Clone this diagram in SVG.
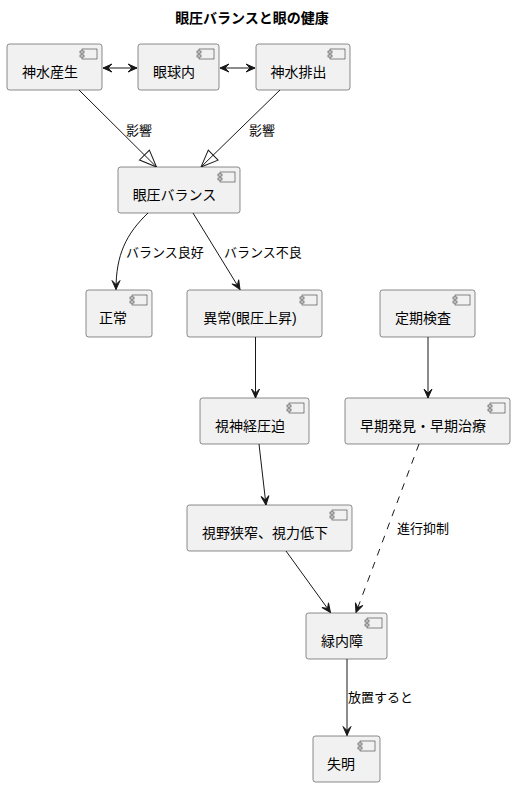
<svg xmlns="http://www.w3.org/2000/svg" width="515" height="787" viewBox="0 0 515 787">
<defs>
<style>
.node rect.b{fill:#F1F1F1;stroke:#181818;stroke-width:0.5}
.node rect.i{fill:#F1F1F1;stroke:#181818;stroke-width:0.5}
.node text{font-family:"Liberation Sans","Noto Sans CJK JP",sans-serif;font-size:14px;fill:#000;text-anchor:middle}
.e{fill:none;stroke:#181818;stroke-width:1}
.d{stroke-dasharray:7,7}
.lbl{font-family:"Liberation Sans","Noto Sans CJK JP",sans-serif;font-size:13px;fill:#000}
.title{font-family:"Liberation Sans","Noto Sans CJK JP",sans-serif;font-size:14px;font-weight:bold;fill:#000;text-anchor:middle}
</style>
<marker id="arr" viewBox="-10 -5 11 10" refX="0" refY="0" markerWidth="11" markerHeight="10" markerUnits="userSpaceOnUse" orient="auto">
<path d="M0,0 L-9,-4 L-5,0 L-9,4 Z" fill="#181818" stroke="#181818" stroke-width="1"/>
</marker>
<marker id="arrs" viewBox="-10 -5 11 10" refX="0" refY="0" markerWidth="11" markerHeight="10" markerUnits="userSpaceOnUse" orient="auto-start-reverse">
<path d="M0,0 L-9,-4 L-5,0 L-9,4 Z" fill="#181818" stroke="#181818" stroke-width="1"/>
</marker>
<marker id="tri" viewBox="-19 -9 20 18" refX="0" refY="0" markerWidth="20" markerHeight="18" markerUnits="userSpaceOnUse" orient="auto">
<path d="M0,0 L-17,-7 L-17,7 Z" fill="none" stroke="#181818" stroke-width="1"/>
</marker>
</defs>
<rect width="515" height="787" fill="#FFFFFF"/>
<text class="title" x="252" y="23">眼圧バランスと眼の健康</text>

<g id="connectors">
<line class="e" x1="103" y1="68" x2="137" y2="68" marker-start="url(#arrs)" marker-end="url(#arr)"/>
<line class="e" x1="220" y1="68" x2="255" y2="68" marker-start="url(#arrs)" marker-end="url(#arr)"/>
<line class="e" x1="79" y1="90" x2="156.5" y2="167" marker-end="url(#tri)"/>
<text class="lbl" x="126" y="135">影響</text>
<line class="e" x1="280" y1="90" x2="201" y2="167" marker-end="url(#tri)"/>
<text class="lbl" x="249" y="135">影響</text>
<path class="e" d="M148,213 C126,234 116,255 116,289.5" marker-end="url(#arr)"/>
<text class="lbl" x="126" y="257">バランス良好</text>
<line class="e" x1="193" y1="213" x2="240" y2="289.5" marker-end="url(#arr)"/>
<text class="lbl" x="224" y="257">バランス不良</text>
<line class="e" x1="255.5" y1="337" x2="255.5" y2="398" marker-end="url(#arr)"/>
<line class="e" x1="428" y1="337" x2="428" y2="398" marker-end="url(#arr)"/>
<line class="e" x1="259" y1="444" x2="266" y2="505" marker-end="url(#arr)"/>
<line class="e" x1="286" y1="551" x2="330.5" y2="612.5" marker-end="url(#arr)"/>
<line class="e d" x1="419" y1="444" x2="356" y2="612.5" marker-end="url(#arr)"/>
<text class="lbl" x="397" y="533">進行抑制</text>
<line class="e" x1="347" y1="659" x2="347" y2="735.5" marker-end="url(#arr)"/>
<text class="lbl" x="348" y="702">放置すると</text>
</g>

<g id="n_seisan" class="node">
<rect class="b" x="7" y="44" width="95" height="46" rx="2.5"/>
<rect class="i" x="82" y="49" width="15" height="10"/><rect class="i" x="80" y="51" width="4" height="2"/><rect class="i" x="80" y="55" width="4" height="2"/>
<text x="50" y="77">神水産生</text>
</g>
<g id="n_gankyu" class="node">
<rect class="b" x="138" y="44" width="81" height="46" rx="2.5"/>
<rect class="i" x="199" y="49" width="15" height="10"/><rect class="i" x="197" y="51" width="4" height="2"/><rect class="i" x="197" y="55" width="4" height="2"/>
<text x="174" y="77">眼球内</text>
</g>
<g id="n_haishutsu" class="node">
<rect class="b" x="256" y="44" width="94" height="46" rx="2.5"/>
<rect class="i" x="330" y="49" width="15" height="10"/><rect class="i" x="328" y="51" width="4" height="2"/><rect class="i" x="328" y="55" width="4" height="2"/>
<text x="298.5" y="77">神水排出</text>
</g>
<g id="n_balance" class="node">
<rect class="b" x="118" y="167" width="122" height="46" rx="2.5"/>
<rect class="i" x="220" y="172" width="15" height="10"/><rect class="i" x="218" y="174" width="4" height="2"/><rect class="i" x="218" y="178" width="4" height="2"/>
<text x="174.5" y="200">眼圧バランス</text>
</g>
<g id="n_seijo" class="node">
<rect class="b" x="86" y="290" width="66" height="47" rx="2.5"/>
<rect class="i" x="132" y="295" width="15" height="10"/><rect class="i" x="130" y="297" width="4" height="2"/><rect class="i" x="130" y="301" width="4" height="2"/>
<text x="113" y="323">正常</text>
</g>
<g id="n_ijo" class="node">
<rect class="b" x="187" y="290" width="135" height="47" rx="2.5"/>
<rect class="i" x="302" y="295" width="15" height="10"/><rect class="i" x="300" y="297" width="4" height="2"/><rect class="i" x="300" y="301" width="4" height="2"/>
<text x="250" y="323">異常(眼圧上昇)</text>
</g>
<g id="n_teiki" class="node">
<rect class="b" x="380" y="290" width="95" height="47" rx="2.5"/>
<rect class="i" x="455" y="295" width="15" height="10"/><rect class="i" x="453" y="297" width="4" height="2"/><rect class="i" x="453" y="301" width="4" height="2"/>
<text x="423" y="323">定期検査</text>
</g>
<g id="n_shishinkei" class="node">
<rect class="b" x="200" y="398" width="109" height="46" rx="2.5"/>
<rect class="i" x="289" y="403" width="15" height="10"/><rect class="i" x="287" y="405" width="4" height="2"/><rect class="i" x="287" y="409" width="4" height="2"/>
<text x="250" y="431">視神経圧迫</text>
</g>
<g id="n_soki" class="node">
<rect class="b" x="345" y="398" width="165" height="46" rx="2.5"/>
<rect class="i" x="490" y="403" width="15" height="10"/><rect class="i" x="488" y="405" width="4" height="2"/><rect class="i" x="488" y="409" width="4" height="2"/>
<text x="423" y="431">早期発見・早期治療</text>
</g>
<g id="n_shiya" class="node">
<rect class="b" x="187" y="505" width="165" height="46" rx="2.5"/>
<rect class="i" x="332" y="510" width="15" height="10"/><rect class="i" x="330" y="512" width="4" height="2"/><rect class="i" x="330" y="516" width="4" height="2"/>
<text x="265" y="538">視野狭窄、視力低下</text>
</g>
<g id="n_ryokunaisho" class="node">
<rect class="b" x="306" y="613" width="81" height="46" rx="2.5"/>
<rect class="i" x="367" y="618" width="15" height="10"/><rect class="i" x="365" y="620" width="4" height="2"/><rect class="i" x="365" y="624" width="4" height="2"/>
<text x="342" y="646">緑内障</text>
</g>
<g id="n_shitsumei" class="node">
<rect class="b" x="313" y="736" width="67" height="46" rx="2.5"/>
<rect class="i" x="360" y="741" width="15" height="10"/><rect class="i" x="358" y="743" width="4" height="2"/><rect class="i" x="358" y="747" width="4" height="2"/>
<text x="341" y="769">失明</text>
</g>
</svg>
